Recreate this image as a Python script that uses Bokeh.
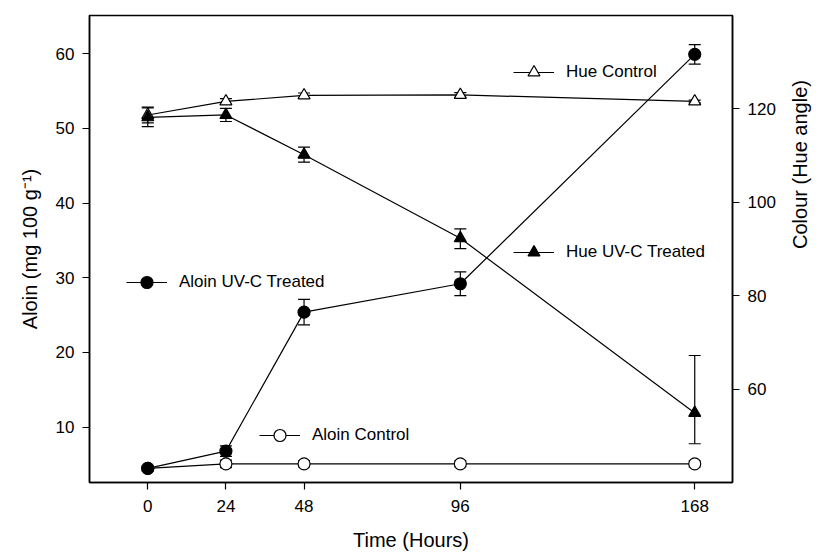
import math
from bokeh.plotting import figure
from bokeh.models import (Range1d, LinearAxis, FixedTicker, Whisker, TeeHead,
                          ColumnDataSource, Legend, LegendItem)
from bokeh.embed import file_html
from bokeh.resources import INLINE

# ---- data ----
hours = [0, 24, 48, 96, 168]
aloin_uvc = [4.5, 6.8, 25.4, 29.2, 59.9]
aloin_uvc_err_up = [0.3, 0.7, 1.7, 1.6, 1.3]
aloin_uvc_err_dn = [0.3, 0.7, 1.7, 1.6, 1.3]
aloin_ctrl = [4.5, 5.1, 5.1, 5.1, 5.1]
aloin_ctrl_err_up = [0.3, 0.5, 0.4, 0.4, 0.4]
aloin_ctrl_err_dn = [0.3, 0.5, 0.4, 0.4, 0.4]
hue_ctrl = [118.7, 121.6, 122.9, 123.0, 121.6]
hue_ctrl_err_up = [1.7, 0.6, 0.5, 0.5, 0.3]
hue_ctrl_err_dn = [1.7, 0.6, 0.5, 0.5, 0.3]
hue_uvc = [118.2, 118.7, 110.2, 92.3, 54.9]
hue_uvc_err_up = [2.0, 1.4, 1.6, 2.0, 12.3]
hue_uvc_err_dn = [2.0, 1.4, 1.6, 2.2, 6.6]

x_ticks = [0, 24, 48, 96, 168]
left_ticks = [10, 20, 30, 40, 50, 60]
right_ticks = [60, 80, 100, 120]

FONT = "Liberation Sans"

p = figure(width=824, height=558, output_backend="svg", toolbar_location=None,
           x_range=Range1d(-17.9, 179.6), y_range=Range1d(2.6, 65.1),
           min_border_left=89, min_border_right=87, min_border_top=15,
           min_border_bottom=76)
p.extra_y_ranges = {"hue": Range1d(40, 140)}
p.xgrid.visible = False
p.ygrid.visible = False
p.outline_line_color = "black"
p.outline_line_width = 1.5
p.outline_line_alpha = 1.0

def style_axis(ax, ticks, title):
    ax.ticker = FixedTicker(ticks=ticks)
    ax.axis_label = title
    ax.axis_label_text_font = FONT
    ax.axis_label_text_font_style = "normal"
    ax.axis_label_text_font_size = "20px"
    ax.axis_label_text_color = "black"
    ax.major_label_text_font = FONT
    ax.major_label_text_font_size = "17px"
    ax.major_label_text_color = "black"
    ax.axis_line_color = "black"
    ax.axis_line_width = 1.5
    ax.major_tick_line_color = "black"
    ax.major_tick_line_width = 1.2
    ax.major_tick_in = 0
    ax.major_tick_out = 7
    ax.minor_tick_line_color = None

style_axis(p.xaxis[0], x_ticks, "Time (Hours)")
p.xaxis[0].major_label_standoff = 10
p.xaxis[0].axis_label_standoff = 14
style_axis(p.yaxis[0], left_ticks, "Aloin (mg 100 g\u207b\u00b9)")
p.yaxis[0].major_label_standoff = 8
p.yaxis[0].axis_label_standoff = 12

ry = LinearAxis(y_range_name="hue")
style_axis(ry, right_ticks, "Colour (Hue angle)")
ry.major_label_standoff = 8
ry.axis_label_standoff = 21
ry.axis_label_orientation = math.pi / 2
p.add_layout(ry, "right")

LW = 1.2
MS = 12

def series(y, eu, ed, marker, fill, range_name):
    kw = {} if range_name is None else {"y_range_name": range_name}
    src = ColumnDataSource(dict(x=hours, y=y,
                                lo=[a - e for a, e in zip(y, ed)],
                                hi=[a + e for a, e in zip(y, eu)]))
    ln = p.line("x", "y", source=src, line_color="black", line_width=LW, **kw)
    wk = Whisker(base="x", lower="lo", upper="hi", source=src,
                 line_color="black", line_width=LW,
                 upper_head=TeeHead(size=12, line_color="black", line_width=LW),
                 lower_head=TeeHead(size=12, line_color="black", line_width=LW),
                 **kw)
    p.add_layout(wk)
    sc = p.scatter("x", "y", source=src, marker=marker, size=MS,
                   fill_color=fill, line_color="black", line_width=LW, **kw)
    return ln, sc

hc = series(hue_ctrl, hue_ctrl_err_up, hue_ctrl_err_dn, "triangle", "white", "hue")
hu = series(hue_uvc, hue_uvc_err_up, hue_uvc_err_dn, "triangle", "black", "hue")
ac = series(aloin_ctrl, aloin_ctrl_err_up, aloin_ctrl_err_dn, "circle", "white", None)
au = series(aloin_uvc, aloin_uvc_err_up, aloin_uvc_err_dn, "circle", "black", None)

def add_legend(label, rends, loc):
    lg = Legend(items=[LegendItem(label=label, renderers=list(rends))],
                location=loc, orientation="vertical",
                margin=0, padding=0, spacing=0,
                glyph_width=41, glyph_height=30, label_height=30,
                label_standoff=12,
                label_text_font=FONT, label_text_font_size="17px",
                label_text_color="black",
                border_line_alpha=0, background_fill_alpha=0)
    p.add_layout(lg, "center")

add_legend("Hue Control", hc, (424, 395))
add_legend("Hue UV-C Treated", hu, (424, 215))
add_legend("Aloin UV-C Treated", au, (37, 185))
add_legend("Aloin Control", ac, (170, 32))

open("out.html", "w").write(file_html(p, INLINE))
